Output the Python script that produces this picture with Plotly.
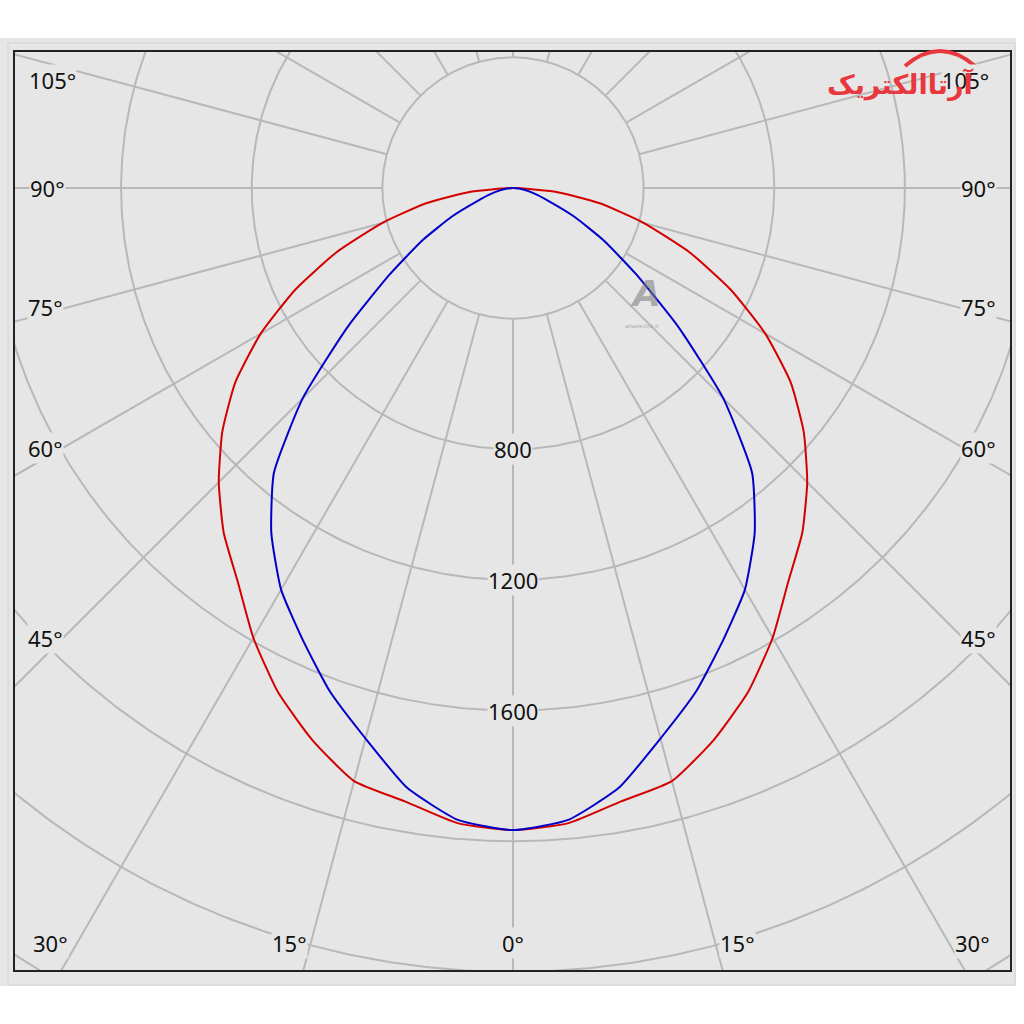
import numpy as np
import plotly.graph_objects as go

# ---------------- data ----------------
angles_deg = [0, 5, 10, 15, 20, 25, 30, 35, 40, 45, 50, 55, 60, 65, 70, 75, 80, 85, 90]
red_cd = [1966, 1952, 1907, 1880, 1798, 1703, 1590, 1470, 1378, 1274, 1162, 1038, 892, 735, 575, 415, 270, 130, 0]
blue_cd = [1966, 1942, 1865, 1745, 1640, 1525, 1420, 1290, 1139, 910, 660, 460, 320, 205, 115, 70, 40, 18, 0]

grid_radii = [400, 800, 1200, 1600, 2000, 2400, 2800, 3200]
radial_angles = list(range(0, 360, 15))
radius_labels = ["800", "1200", "1600"]
radius_label_values = [800, 1200, 1600]
angle_labels_left = ["105°", "90°", "75°", "60°", "45°"]
angle_labels_bottom = ["30°", "15°", "0°", "15°", "30°"]

# ---------------- geometry helpers ----------------
W = H = 1024
PL, PR, PT, PB = 15, 1010, 52, 970        # plot frame in pixels
CX, CY = 513, 188                          # polar centre in pixels
K = 0.3266                                 # pixels per cd

x_range = [(PL - CX) / K, (PR - CX) / K]
y_range = [(CY - PB) / K, (CY - PT) / K]


def px2x(px):
    return (px - PL) / (PR - PL)


def py2y(py):
    return (PB - py) / (PB - PT)


def to_xy(theta_deg, r):
    t = np.radians(np.asarray(theta_deg, dtype=float))
    r = np.asarray(r, dtype=float)
    return r * np.sin(t), -r * np.cos(t)


def mirrored(angles, values):
    a = [-v for v in angles[::-1]] + angles[1:]
    v = values[::-1] + values[1:]
    return a, v


fig = go.Figure()

GRID = "#b8b8b8"
tt = np.linspace(0, 360, 721)
for r in grid_radii:
    gx, gy = to_xy(tt, np.full_like(tt, r))
    fig.add_trace(go.Scatter(x=gx, y=gy, mode="lines", line=dict(color=GRID, width=2),
                             hoverinfo="skip", showlegend=False))
for a in radial_angles:
    gx, gy = to_xy([a, a], [grid_radii[0], 4000])
    fig.add_trace(go.Scatter(x=gx, y=gy, mode="lines", line=dict(color=GRID, width=2),
                             hoverinfo="skip", showlegend=False))

ra, rv = mirrored(angles_deg, red_cd)
rx, ry = to_xy(ra, rv)
fig.add_trace(go.Scatter(x=rx, y=ry, mode="lines", name="C0-C180",
                         line=dict(color="#d40000", width=2, shape="spline", smoothing=0.5),
                         showlegend=False))
ba, bv = mirrored(angles_deg, blue_cd)
bx, by = to_xy(ba, bv)
fig.add_trace(go.Scatter(x=bx, y=by, mode="lines", name="C90-C270",
                         line=dict(color="#0000c8", width=2, shape="spline", smoothing=0.5),
                         showlegend=False))

BG = "#e6e6e6"
FONT = dict(family="Noto Sans, DejaVu Sans, sans-serif", size=22, color="#111111")
ann = []

for txt, v in zip(radius_labels, radius_label_values):
    ann.append(dict(x=0, y=-v, xref="x", yref="y", text=txt, showarrow=False,
                    xanchor="center", yanchor="middle",
                    font=FONT, bgcolor=BG, borderpad=0))

left_pos = [(52, 80), (47, 188), (45, 307), (45, 448), (45, 638)]
right_pos = [(965, 80), (978, 188), (978, 307), (978, 448), (978, 638)]
bottom_pos = [(50, 943), (289, 943), (513, 943), (737, 943), (972, 943)]
for labels, positions in ((angle_labels_left, left_pos), (angle_labels_left, right_pos),
                          (angle_labels_bottom, bottom_pos)):
    for txt, (px, py) in zip(labels, positions):
        ann.append(dict(x=px2x(px), y=py2y(py), xref="paper", yref="paper", text=txt,
                        xanchor="center", yanchor="middle",
                        showarrow=False, font=FONT, bgcolor=BG, borderpad=0))

# watermark
ann.append(dict(x=px2x(645), y=py2y(293), xref="paper", yref="paper", text="<b><i>A</i></b>",
                xanchor="center", yanchor="middle", showarrow=False,
                font=dict(family="DejaVu Sans", size=36, color="rgba(120,120,120,0.55)")))
ann.append(dict(x=px2x(642), y=py2y(326), xref="paper", yref="paper", text="artaelectric.ir",
                xanchor="center", yanchor="middle", showarrow=False,
                font=dict(family="DejaVu Sans", size=5, color="rgba(120,120,120,0.7)")))
# logo text
ann.append(dict(x=px2x(976), y=py2y(84), xref="paper", yref="paper", text="<b>آرتاالکتریک</b>",
                xanchor="right", yanchor="middle", showarrow=False,
                font=dict(family="DejaVu Sans", size=27, color="#e8383d")))

shapes = [
    dict(type="rect", xref="paper", yref="paper", layer="below",
         x0=px2x(0), x1=px2x(1016), y0=py2y(986), y1=py2y(38),
         fillcolor=BG, line=dict(width=0)),
    dict(type="rect", xref="paper", yref="paper", layer="below",
         x0=px2x(8), x1=px2x(1015), y0=py2y(985), y1=py2y(43),
         fillcolor="rgba(0,0,0,0)", line=dict(color="#d2d2d2", width=1)),
    dict(type="path", xref="paper", yref="paper",
         path="M %f %f Q %f %f %f %f" % (px2x(905), py2y(66), px2x(940), py2y(36),
                                         px2x(975), py2y(66)),
         line=dict(color="#e8383d", width=4)),
]

fig.update_layout(
    width=W, height=H, autosize=False,
    margin=dict(l=PL, r=W - PR, t=PT, b=H - PB),
    paper_bgcolor="white", plot_bgcolor=BG,
    showlegend=False,
    xaxis=dict(range=x_range, showgrid=False, zeroline=False, showticklabels=False, ticks="",
               showline=True, mirror=True, linecolor="#222222", linewidth=2, fixedrange=True),
    yaxis=dict(range=y_range, showgrid=False, zeroline=False, showticklabels=False, ticks="",
               showline=True, mirror=True, linecolor="#222222", linewidth=2, fixedrange=True),
    annotations=ann,
    shapes=shapes,
)

fig.write_html("out.html", config={"displayModeBar": False},
               post_script="document.body.style.margin='0';document.body.style.overflow='hidden';")
